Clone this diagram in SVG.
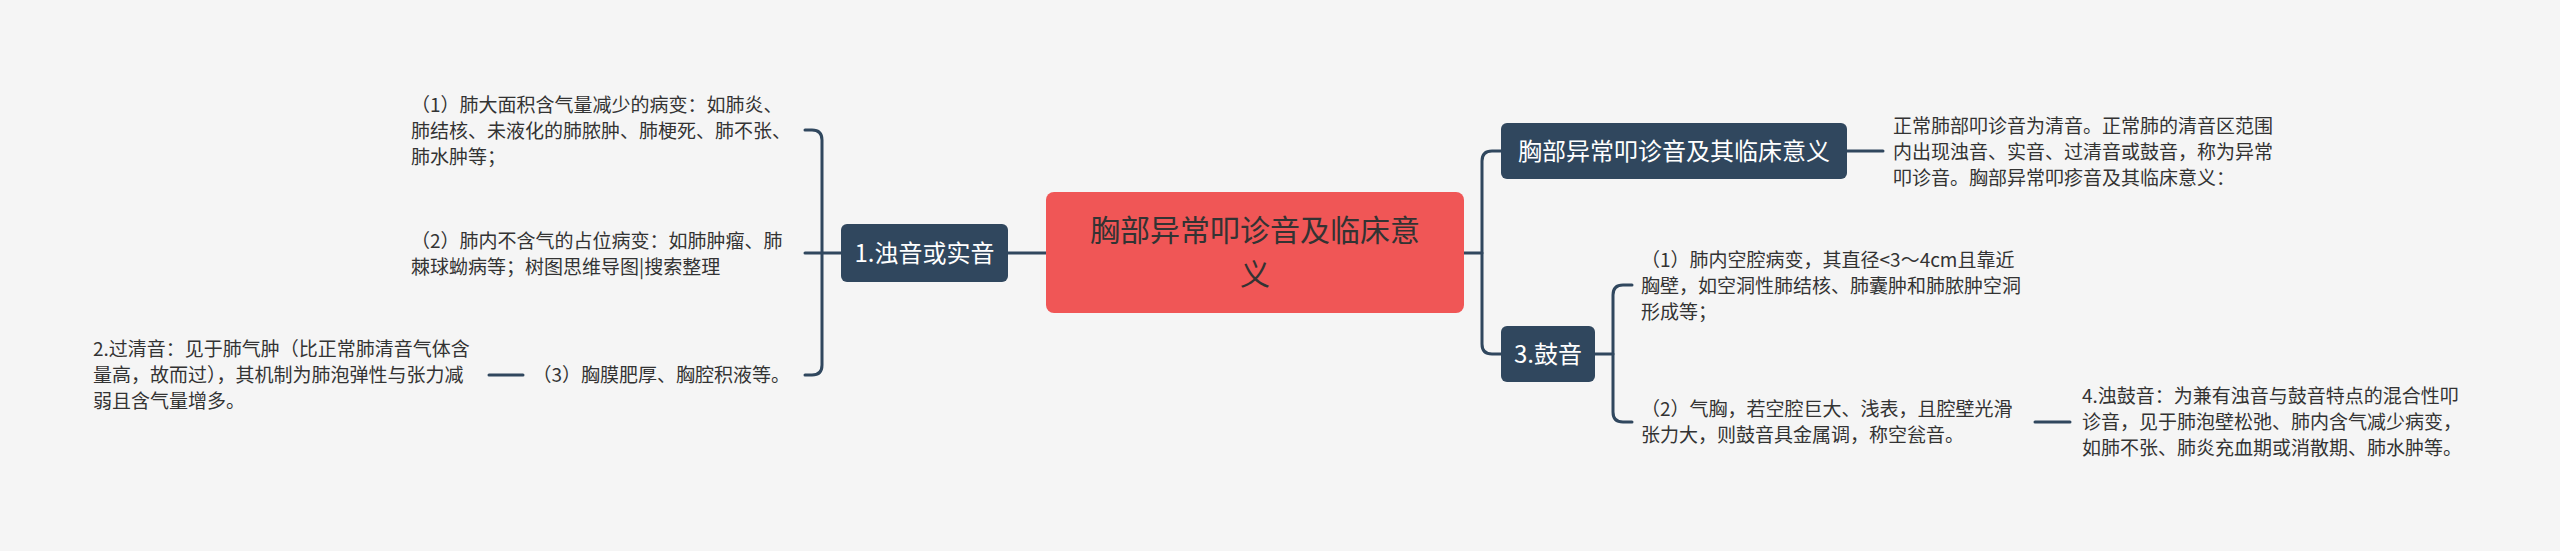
<svg xmlns="http://www.w3.org/2000/svg" width="2560" height="551" viewBox="0 0 2560 551">
<style>
.bg{fill:#f5f5f5}
.topic{fill:#30475e}
.root{fill:#f05656}
.tw{font-family:"Noto Sans CJK SC","Noto Sans",sans-serif;font-size:24px;fill:#ffffff;text-anchor:middle}
.tr{font-family:"Noto Sans CJK SC","Noto Sans",sans-serif;font-size:30px;fill:#333333;text-anchor:middle}
.tl{font-family:"Noto Sans CJK SC","Noto Sans",sans-serif;font-size:19px;fill:#333333}
.c{fill:none;stroke:#30475e;stroke-width:3;stroke-linecap:round}
</style>
<rect class="bg" x="0" y="0" width="2560" height="551"/>
<g id="connectors">
<path class="c" d="M841,253 H805"/>
<path class="c" d="M805,130 H812 Q822,130 822,140 V365 Q822,375 812,375 H805"/>
<path class="c" d="M1008,253 H1046"/>
<path class="c" d="M1464,253 H1482"/>
<path class="c" d="M1501,151 H1492 Q1482,151 1482,161 V344 Q1482,354 1492,354 H1501"/>
<path class="c" d="M1847,151 H1883"/>
<path class="c" d="M1595,354 H1613"/>
<path class="c" d="M1632,285 H1623 Q1613,285 1613,295 V412 Q1613,422 1623,422 H1632"/>
<path class="c" d="M2035,422 H2070"/>
<path class="c" d="M489,375 H523"/>
</g>
<g id="root">
<rect class="root" x="1046" y="192" width="418" height="121" rx="8"/>
<text class="tr" x="1255" y="241">胸部异常叩诊音及临床意</text>
<text class="tr" x="1255" y="285">义</text>
</g>
<g id="node-zhuoyin">
<rect class="topic" x="841" y="224" width="167" height="58" rx="6"/>
<text class="tw" x="924.500" y="262">1.浊音或实音</text>
</g>
<g id="node-yichang">
<rect class="topic" x="1501" y="123" width="346" height="56" rx="6"/>
<text class="tw" x="1674" y="160">胸部异常叩诊音及其临床意义</text>
</g>
<g id="node-guyin">
<rect class="topic" x="1501" y="326" width="94" height="56" rx="6"/>
<text class="tw" x="1548" y="363">3.鼓音</text>
</g>
<g id="leaf-l1">
<text class="tl" x="411" y="112">（1）肺大面积含气量减少的病变：如肺炎、</text>
<text class="tl" x="411" y="138">肺结核、未液化的肺脓肿、肺梗死、肺不张、</text>
<text class="tl" x="411" y="164">肺水肿等；</text>
</g>
<g id="leaf-l2">
<text class="tl" x="411" y="248">（2）肺内不含气的占位病变：如肺肿瘤、肺</text>
<text class="tl" x="411" y="274">棘球蚴病等；树图思维导图|搜索整理</text>
</g>
<g id="leaf-l3">
<text class="tl" x="790" y="382" text-anchor="end">（3）胸膜肥厚、胸腔积液等。</text>
</g>
<g id="leaf-guoqing">
<text class="tl" x="93" y="356">2.过清音：见于肺气肿（比正常肺清音气体含</text>
<text class="tl" x="93" y="382">量高，故而过），其机制为肺泡弹性与张力减</text>
<text class="tl" x="93" y="408">弱且含气量增多。</text>
</g>
<g id="leaf-normal">
<text class="tl" x="1893" y="133">正常肺部叩诊音为清音。正常肺的清音区范围</text>
<text class="tl" x="1893" y="159">内出现浊音、实音、过清音或鼓音，称为异常</text>
<text class="tl" x="1893" y="185">叩诊音。胸部异常叩疹音及其临床意义：</text>
</g>
<g id="leaf-r1">
<text class="tl" x="1641" y="267">（1）肺内空腔病变，其直径&lt;3～4cm且靠近</text>
<text class="tl" x="1641" y="293">胸壁，如空洞性肺结核、肺囊肿和肺脓肿空洞</text>
<text class="tl" x="1641" y="319">形成等；</text>
</g>
<g id="leaf-r2">
<text class="tl" x="1641" y="416">（2）气胸，若空腔巨大、浅表，且腔壁光滑</text>
<text class="tl" x="1641" y="442">张力大，则鼓音具金属调，称空瓮音。</text>
</g>
<g id="leaf-zhuogu">
<text class="tl" x="2082" y="403">4.浊鼓音：为兼有浊音与鼓音特点的混合性叩</text>
<text class="tl" x="2082" y="429">诊音，见于肺泡壁松弛、肺内含气减少病变，</text>
<text class="tl" x="2082" y="455">如肺不张、肺炎充血期或消散期、肺水肿等。</text>
</g>
</svg>
